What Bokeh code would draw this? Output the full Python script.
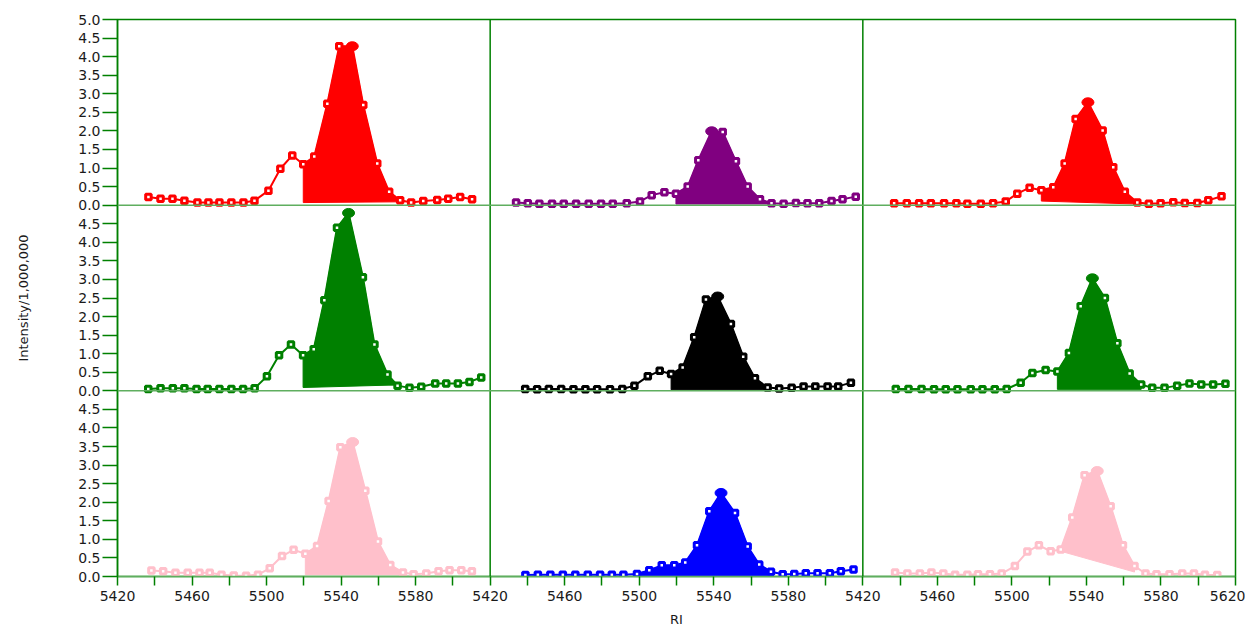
from bokeh.plotting import figure
from bokeh.models import FixedTicker, Range1d, Span
from bokeh.embed import file_html
from bokeh.resources import INLINE

# ---------------- data (RI vs Intensity/1,000,000) ----------------
ri_a = [5436.6, 5443.1, 5449.5, 5455.9, 5462.9, 5468.8, 5474.7, 5481.1, 5487.6, 5493.5, 5501.0, 5507.4, 5513.8, 5519.7,
        5525.6, 5532.6, 5539.0, 5546.0, 5551.9, 5559.4, 5565.8, 5571.7, 5577.6, 5584.1, 5591.6, 5597.5, 5603.9, 5610.3]
int_a = [0.22, 0.17, 0.17, 0.12, 0.07, 0.07, 0.07, 0.07, 0.07, 0.12, 0.39, 0.98, 1.34, 1.10,
         1.31, 2.73, 4.28, 4.28, 2.70, 1.12, 0.36, 0.13, 0.07, 0.11, 0.14, 0.17, 0.22, 0.16]

ri_b = [5433.9, 5440.2, 5446.4, 5453.2, 5459.5, 5466.1, 5472.9, 5479.5, 5485.8, 5493.3, 5500.4, 5506.7, 5513.5, 5519.7,
        5526.0, 5531.7, 5538.9, 5544.8, 5551.9, 5558.2, 5564.8, 5571.0, 5577.5, 5584.1, 5590.3, 5596.6, 5603.2, 5609.1, 5616.2]
int_b = [0.07, 0.05, 0.04, 0.04, 0.04, 0.04, 0.04, 0.04, 0.04, 0.05, 0.10, 0.27, 0.35, 0.31,
         0.50, 1.21, 1.99, 1.97, 1.18, 0.50, 0.16, 0.05, 0.04, 0.06, 0.05, 0.05, 0.11, 0.16, 0.23]

ri_c = [5436.8, 5443.6, 5450.2, 5456.5, 5463.6, 5470.2, 5476.1, 5483.3, 5489.9, 5496.7, 5502.9, 5509.5, 5515.8, 5522.2,
        5528.3, 5534.2, 5540.8, 5548.7, 5554.4, 5560.6, 5567.3, 5573.5, 5579.8, 5586.6, 5592.8, 5599.5, 5605.4, 5612.5]
int_c = [0.05, 0.05, 0.05, 0.05, 0.05, 0.05, 0.04, 0.04, 0.05, 0.10, 0.31, 0.47, 0.40, 0.48,
         1.12, 2.32, 2.77, 2.01, 1.02, 0.36, 0.07, 0.04, 0.05, 0.08, 0.06, 0.06, 0.13, 0.24]

ri_d = [5436.5, 5443.1, 5449.7, 5455.9, 5462.4, 5468.4, 5474.7, 5481.1, 5487.4, 5493.6, 5500.2, 5506.7, 5513.1, 5519.6,
        5525.3, 5531.0, 5537.8, 5544.0, 5551.7, 5557.9, 5564.9, 5570.3, 5576.7, 5583.0, 5590.5, 5596.4, 5602.7, 5608.9, 5615.2]
int_d = [0.05, 0.07, 0.07, 0.07, 0.05, 0.05, 0.05, 0.05, 0.05, 0.07, 0.39, 0.96, 1.25, 0.96,
         1.12, 2.44, 4.39, 4.79, 3.06, 1.25, 0.44, 0.14, 0.08, 0.11, 0.20, 0.20, 0.20, 0.24, 0.36]

ri_e = [5438.8, 5445.2, 5451.5, 5458.1, 5464.7, 5471.1, 5477.4, 5484.3, 5490.9, 5497.4, 5504.6, 5511.0, 5517.1, 5523.3,
        5529.5, 5535.8, 5542.1, 5549.2, 5555.8, 5562.1, 5568.9, 5575.1, 5581.8, 5588.2, 5594.5, 5601.1, 5606.8, 5613.6]
int_e = [0.05, 0.04, 0.05, 0.05, 0.04, 0.04, 0.04, 0.04, 0.05, 0.14, 0.39, 0.54, 0.45, 0.63,
         1.44, 2.46, 2.54, 1.80, 0.92, 0.34, 0.09, 0.06, 0.08, 0.12, 0.12, 0.12, 0.12, 0.22]

ri_f = [5437.7, 5444.5, 5451.5, 5458.2, 5464.5, 5470.8, 5477.9, 5484.2, 5490.8, 5497.2, 5504.7, 5511.0, 5518.1, 5524.4,
        5530.6, 5536.9, 5543.2, 5549.9, 5556.6, 5563.2, 5569.4, 5575.3, 5581.9, 5588.7, 5595.3, 5601.6, 5608.0, 5614.6]
int_f = [0.05, 0.05, 0.05, 0.04, 0.04, 0.04, 0.04, 0.04, 0.04, 0.05, 0.22, 0.48, 0.56, 0.52,
         1.02, 2.28, 3.03, 2.50, 1.28, 0.47, 0.17, 0.08, 0.08, 0.14, 0.20, 0.17, 0.17, 0.19]

ri_g = [5438.2, 5444.5, 5451.1, 5457.7, 5464.0, 5469.5, 5475.8, 5482.4, 5489.0, 5495.4, 5501.7, 5508.3, 5514.5, 5520.8,
        5527.1, 5533.3, 5539.6, 5546.2, 5553.0, 5559.8, 5566.4, 5573.2, 5578.9, 5585.7, 5592.3, 5598.2, 5604.5, 5610.2]
int_g = [0.16, 0.14, 0.10, 0.10, 0.10, 0.10, 0.05, 0.03, 0.02, 0.05, 0.22, 0.55, 0.72, 0.61,
         0.82, 2.03, 3.48, 3.62, 2.31, 0.94, 0.31, 0.11, 0.06, 0.08, 0.14, 0.17, 0.17, 0.14]

ri_h = [5438.9, 5445.6, 5452.3, 5459.0, 5465.7, 5472.4, 5479.0, 5485.3, 5491.5, 5498.8, 5505.4, 5512.1, 5518.8, 5524.7,
        5531.0, 5537.6, 5543.9, 5551.4, 5558.2, 5564.4, 5570.7, 5577.0, 5583.2, 5589.4, 5595.7, 5602.3, 5608.2, 5615.0]
int_h = [0.04, 0.05, 0.05, 0.05, 0.05, 0.05, 0.05, 0.05, 0.05, 0.07, 0.17, 0.30, 0.30, 0.38,
         0.84, 1.76, 2.25, 1.71, 0.81, 0.32, 0.13, 0.06, 0.07, 0.09, 0.09, 0.09, 0.14, 0.19]

ri_i = [5437.3, 5443.9, 5450.6, 5456.8, 5463.2, 5469.5, 5476.1, 5481.8, 5488.2, 5494.5, 5501.6, 5508.3, 5514.5, 5520.8,
        5526.2, 5532.4, 5539.0, 5545.8, 5553.0, 5559.6, 5565.8, 5571.7, 5577.6, 5584.6, 5591.4, 5597.7, 5603.6, 5610.2]
int_i = [0.11, 0.08, 0.08, 0.11, 0.08, 0.05, 0.05, 0.06, 0.06, 0.08, 0.28, 0.67, 0.84, 0.68,
         0.73, 1.59, 2.73, 2.84, 1.89, 0.84, 0.28, 0.08, 0.06, 0.06, 0.08, 0.08, 0.05, 0.04]

series_ri = [ri_a, ri_b, ri_c, ri_d, ri_e, ri_f, ri_g, ri_h, ri_i]
series_int = [int_a, int_b, int_c, int_d, int_e, int_f, int_g, int_h, int_i]
series_color = ["#ff0000", "#800080", "#ff0000", "#008000", "#000000", "#008000", "#ffc0cb", "#0000ff", "#ffc0cb"]
peak_index = [17, 16, 16, 17, 16, 16, 17, 16, 17]
fill_start = [13, 13, 12, 13, 12, 13, 13, 9, 14]
fill_end = [21, 21, 20, 21, 20, 20, 21, 20, 20]
base_left = [0.07, 0.03, 0.11, 0.09, 0.03, 0.04, 0.05, 0.03, 0.68]
base_right = [0.09, 0.03, 0.03, 0.16, 0.03, 0.04, 0.05, 0.03, 0.12]

# panel axis definitions (each panel: RI 5420-5620, intensity 0-5)
RI_MIN, RI_MAX = 5420, 5620
INT_MIN, INT_MAX = 0.0, 5.0
x_tick_values = [5420, 5440, 5460, 5480, 5500, 5520, 5540, 5560, 5580, 5600, 5620]
x_label_values = [5420, 5460, 5500, 5540, 5580, 5620]
y_tick_values = [0.0, 0.5, 1.0, 1.5, 2.0, 2.5, 3.0, 3.5, 4.0, 4.5, 5.0]

GREEN = "#008000"
LIGHT_GREEN = "#5fae5f"
FONT = "DejaVu Sans"
TXT = "#1a1a1a"

NCOL, NROW = 3, 3
span_x = RI_MAX - RI_MIN
span_y = INT_MAX - INT_MIN

p = figure(width=1245, height=631,
           x_range=Range1d(RI_MIN, RI_MIN + NCOL * span_x),
           y_range=Range1d(INT_MIN, INT_MIN + NROW * span_y),
           output_backend="svg", toolbar_location=None,
           min_border_left=117, min_border_right=10, min_border_top=19, min_border_bottom=55)
p.xgrid.visible = False
p.ygrid.visible = False
p.outline_line_color = GREEN
p.outline_line_width = 1.5
p.background_fill_color = "white"
p.border_fill_color = "white"

# one pair of scales per panel, so every panel keeps its own RI / intensity scale
for c in range(NCOL):
    p.extra_x_ranges[f"x{c}"] = Range1d(RI_MIN - c * span_x, RI_MIN + (NCOL - c) * span_x)
for r in range(NROW):
    k = NROW - 1 - r
    p.extra_y_ranges[f"y{r}"] = Range1d(INT_MIN - k * span_y, INT_MIN + (NROW - k) * span_y)

# repeated tick labels for the shared outer axes
xticks, xlabels = [], {}
for c in range(NCOL):
    for t in x_tick_values:
        if c < NCOL - 1 and t == RI_MAX:
            continue
        pos = t + c * span_x
        xticks.append(pos)
        xlabels[pos] = str(t) if t in x_label_values else ""
yticks, ylabels = [], {}
for r in range(NROW):
    for t in y_tick_values:
        if r > 0 and t == INT_MAX:
            continue
        pos = t + (NROW - 1 - r) * span_y
        yticks.append(pos)
        ylabels[pos] = f"{t:.1f}"

ax = p.yaxis[0]
ax.ticker = FixedTicker(ticks=yticks)
ax.major_label_overrides = ylabels
ax.axis_line_color = GREEN
ax.axis_line_width = 1.5
ax.major_tick_line_color = GREEN
ax.major_tick_line_width = 1.5
ax.major_tick_in = 0
ax.major_tick_out = 15
ax.minor_tick_line_color = None
ax.major_label_standoff = 2
ax.major_label_text_font = FONT
ax.major_label_text_font_size = "14px"
ax.major_label_text_color = TXT
ax.axis_label = "Intensity/1,000,000"
ax.axis_label_text_font = FONT
ax.axis_label_text_font_size = "13px"
ax.axis_label_text_font_style = "normal"
ax.axis_label_text_color = TXT
ax.axis_label_standoff = 44

ax = p.xaxis[0]
ax.ticker = FixedTicker(ticks=xticks)
ax.major_label_overrides = xlabels
ax.axis_line_color = LIGHT_GREEN
ax.axis_line_width = 1.5
ax.major_tick_line_color = GREEN
ax.major_tick_line_width = 1.5
ax.major_tick_in = 0
ax.major_tick_out = 9
ax.minor_tick_line_color = None
ax.major_label_standoff = 5
ax.major_label_text_font = FONT
ax.major_label_text_font_size = "14px"
ax.major_label_text_color = TXT
ax.axis_label = "RI"
ax.axis_label_text_font = FONT
ax.axis_label_text_font_size = "13px"
ax.axis_label_text_font_style = "normal"
ax.axis_label_text_color = TXT
ax.axis_label_standoff = 8

# panel separators
for c in range(1, NCOL):
    p.add_layout(Span(location=RI_MIN + c * span_x, dimension="height", line_color=GREEN, line_width=1.5))
for r in range(1, NROW):
    p.add_layout(Span(location=INT_MIN + r * span_y, dimension="width", line_color=LIGHT_GREEN, line_width=1.5))

for k in range(9):
    r, c = divmod(k, 3)
    xr, yr = f"x{c}", f"y{r}"
    xs = series_ri[k]
    ys = series_int[k]
    col = series_color[k]
    s, e = fill_start[k], fill_end[k]
    px = [xs[s]] + xs[s:e + 1] + [xs[e]]
    py = [base_left[k]] + ys[s:e + 1] + [base_right[k]]
    p.patch(px, py, fill_color=col, line_color=col, line_width=1, x_range_name=xr, y_range_name=yr)
    p.line(xs, ys, line_color=col, line_width=2, x_range_name=xr, y_range_name=yr)
    pk = peak_index[k]
    mx = [x for j, x in enumerate(xs) if j != pk]
    my = [y for j, y in enumerate(ys) if j != pk]
    p.scatter(mx, my, marker="square", size=5.5, line_color=col, line_width=3, fill_color="white",
              x_range_name=xr, y_range_name=yr)
    p.ellipse([xs[pk]], [ys[pk]], width=12, height=9, width_units="screen", height_units="screen",
              fill_color=col, line_color=col, x_range_name=xr, y_range_name=yr)

open("out.html", "w").write(file_html(p, INLINE))
